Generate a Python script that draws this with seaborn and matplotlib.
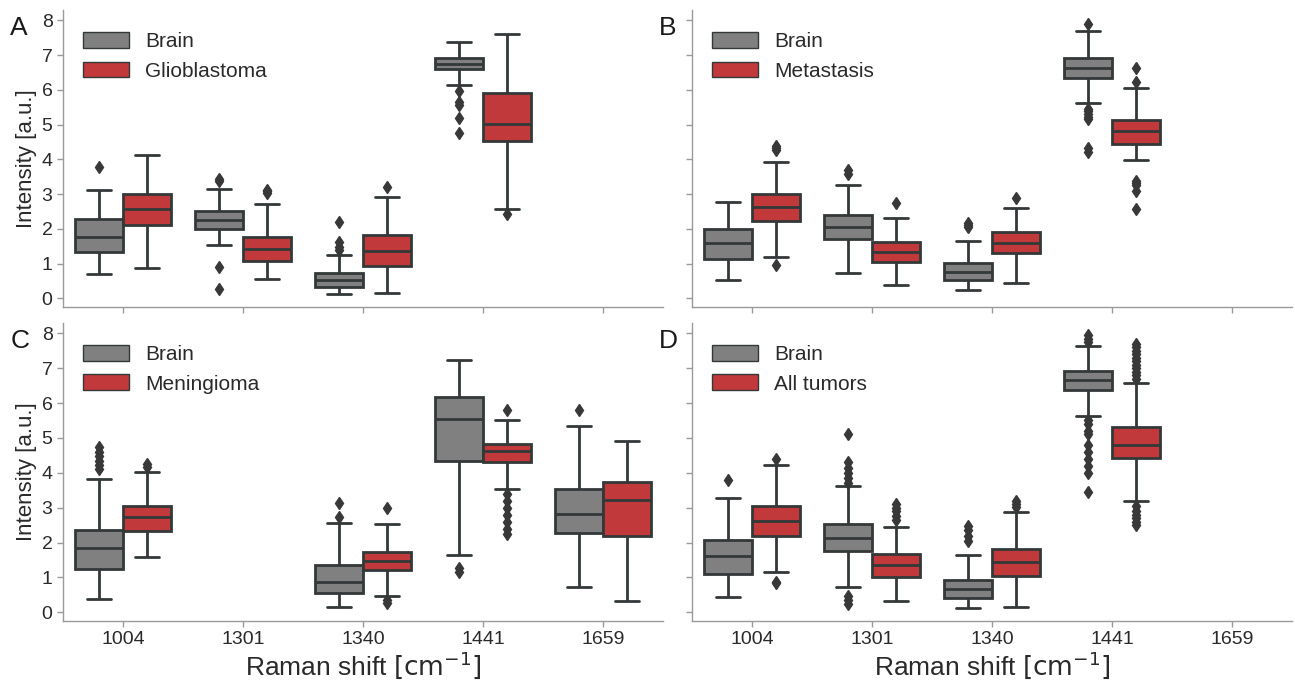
import numpy as np
import pandas as pd
import matplotlib.pyplot as plt
import seaborn as sns

shifts = ['1004', '1301', '1340', '1441', '1659']
tumor_names = ['Glioblastoma', 'Metastasis', 'Meningioma', 'All tumors']
panel_letters = ['A', 'B', 'C', 'D']

# box stats per Raman shift: (low whisker, q1, median, q3, high whisker), None = not measured
brain_A = [(0.70, 1.34, 1.77, 2.29, 3.11), (1.53, 2.00, 2.25, 2.52, 3.15),
           (0.12, 0.33, 0.54, 0.74, 1.25), (6.15, 6.59, 6.74, 6.93, 7.39), None]
brain_A_out = [[3.79], [3.38, 3.43, 0.90, 0.28], [1.40, 1.47, 1.63, 2.19],
               [5.97, 5.64, 5.58, 5.20, 4.75], []]
tumor_A = [(0.87, 2.10, 2.58, 3.01, 4.13), (0.56, 1.08, 1.43, 1.78, 2.73),
           (0.14, 0.92, 1.37, 1.82, 2.92), (2.58, 4.53, 5.02, 5.91, 7.60), None]
tumor_A_out = [[], [3.03, 3.08, 3.13], [3.20], [2.42], []]

brain_B = [(0.53, 1.12, 1.58, 2.00, 2.76), (0.74, 1.71, 2.04, 2.41, 3.25),
           (0.23, 0.53, 0.77, 1.02, 1.66), (5.61, 6.35, 6.62, 6.93, 7.70), None]
brain_B_out = [[], [3.58, 3.70], [2.05, 2.12, 2.17],
               [7.90, 5.45, 5.38, 5.30, 5.22, 5.15, 4.32, 4.22], []]
tumor_B = [(1.18, 2.24, 2.63, 3.00, 3.92), (0.38, 1.04, 1.34, 1.61, 2.31),
           (0.43, 1.30, 1.59, 1.92, 2.59), (3.99, 4.44, 4.82, 5.13, 6.06), None]
tumor_B_out = [[4.27, 4.33, 4.38, 0.97], [2.74], [2.89],
               [6.64, 6.23, 3.38, 3.32, 3.25, 3.08, 2.58], []]

brain_C = [(0.38, 1.23, 1.83, 2.36, 3.83), None, (0.14, 0.55, 0.87, 1.37, 2.57),
           (1.63, 4.33, 5.54, 6.17, 7.25), (0.73, 2.26, 2.83, 3.55, 5.34)]
brain_C_out = [[4.11, 4.22, 4.35, 4.48, 4.60, 4.73], [], [2.72, 3.13], [1.27, 1.15], [5.81]]
tumor_C = [(1.59, 2.34, 2.73, 3.05, 4.03), None, (0.46, 1.20, 1.47, 1.74, 2.53),
           (3.55, 4.30, 4.63, 4.83, 5.51), (0.32, 2.19, 3.23, 3.75, 4.91)]
tumor_C_out = [[4.18, 4.25], [], [2.98, 0.35, 0.28],
               [5.79, 3.39, 3.20, 3.00, 2.80, 2.60, 2.40, 2.24], []]

brain_D = [(0.43, 1.11, 1.61, 2.07, 3.27), (0.73, 1.76, 2.14, 2.53, 3.61),
           (0.11, 0.41, 0.67, 0.94, 1.63), (5.63, 6.37, 6.65, 6.91, 7.64), None]
brain_D_out = [[3.79], [3.72, 3.85, 4.00, 4.15, 4.30, 5.12, 0.46, 0.35, 0.25],
               [2.05, 2.20, 2.35, 2.47],
               [7.75, 7.85, 7.95, 5.52, 5.40, 5.20, 5.10, 4.80, 4.60, 4.40, 4.20, 4.00, 3.44], []]
tumor_D = [(1.16, 2.19, 2.62, 3.05, 4.23), (0.32, 1.02, 1.35, 1.66, 2.44),
           (0.14, 1.03, 1.45, 1.81, 2.88), (3.20, 4.42, 4.80, 5.31, 6.58), None]
tumor_D_out = [[4.40, 0.88, 0.84], [2.65, 2.75, 2.90, 3.00, 3.10], [3.02, 3.10, 3.18],
               [6.70, 6.80, 6.90, 7.00, 7.10, 7.20, 7.30, 7.40, 7.50, 7.60, 7.70,
                3.05, 2.90, 2.80, 2.70, 2.60, 2.50], []]

panels = [
    (brain_A, brain_A_out, tumor_A, tumor_A_out),
    (brain_B, brain_B_out, tumor_B, tumor_B_out),
    (brain_C, brain_C_out, tumor_C, tumor_C_out),
    (brain_D, brain_D_out, tumor_D, tumor_D_out),
]


def samples(stats, extra):
    # turn the read-off box stats into values that give back the same box
    lo, q1, med, q3, hi = stats
    return [lo, hi] + [q1] * 100 + [med] * 100 + [q3] * 100 + list(extra)


def panel_frame(brain, brain_out, tumor, tumor_out, tumor_name):
    rows = []
    for i, shift in enumerate(shifts):
        for tissue, st, out in [('Brain', brain[i], brain_out[i]), (tumor_name, tumor[i], tumor_out[i])]:
            if st is None:
                continue
            for v in samples(st, out):
                rows.append({'shift': shift, 'tissue': tissue, 'intensity': v})
    return pd.DataFrame(rows)


sns.set_style('ticks')
plt.rcParams['font.family'] = ['Liberation Sans', 'DejaVu Sans']
plt.rcParams['mathtext.fontset'] = 'dejavusans'

fig = plt.figure(figsize=(12.95, 6.87), dpi=100)
positions = [
    [0.0486, 0.5531, 0.4633, 0.4323],
    [0.5344, 0.5531, 0.4633, 0.4323],
    [0.0486, 0.0961, 0.4633, 0.4338],
    [0.5344, 0.0961, 0.4633, 0.4338],
]
letter_pos = [(0.008, 0.977), (0.509, 0.977), (0.008, 0.521), (0.509, 0.521)]

gray = '#808080'
red = '#c1393b'
line_col = '#333838'

for k in range(4):
    ax = fig.add_axes(positions[k])
    brain, brain_out, tumor, tumor_out = panels[k]
    df = panel_frame(brain, brain_out, tumor, tumor_out, tumor_names[k])
    sns.boxplot(data=df, x='shift', y='intensity', hue='tissue', order=shifts,
                hue_order=['Brain', tumor_names[k]], palette=[gray, red],
                width=0.8, linewidth=2.0, linecolor=line_col, saturation=1,
                flierprops=dict(marker='d', markerfacecolor='#383838',
                                markeredgecolor='#383838', markersize=6),
                ax=ax)
    ax.set_xlim(-0.5, 4.5)
    ax.set_ylim(-0.25, 8.3)
    ax.set_yticks(range(0, 9))
    sns.despine(ax=ax)
    for s in ['left', 'bottom']:
        ax.spines[s].set_color('#9a9a9a')
        ax.spines[s].set_linewidth(1.0)
    ax.tick_params(colors='#9a9a9a', labelcolor='#2a2a2a', labelsize=14, length=4, width=1)

    if k % 2 == 0:
        ax.set_ylabel('Intensity [a.u.]', fontsize=16, color='#2a2a2a', labelpad=3)
    else:
        ax.set_ylabel('')
        ax.tick_params(axis='y', labelleft=False)
    if k >= 2:
        ax.set_xlabel(r'Raman shift $\left[\mathsf{cm}^{-1}\right]$', fontsize=19,
                      color='#2a2a2a', labelpad=1)
    else:
        ax.set_xlabel('')
        ax.tick_params(axis='x', labelbottom=False)

    sns.move_legend(ax, 'upper left', bbox_to_anchor=(-0.007, 1.007), title=None,
                    frameon=False, fontsize=15, handlelength=2.2, handleheight=0.8,
                    handletextpad=0.8, labelspacing=0.5, borderaxespad=0.75)
    leg = ax.get_legend()
    for t in leg.get_texts():
        t.set_color('#2a2a2a')
    for h in leg.legend_handles:
        h.set_linewidth(1.0)

    fig.text(letter_pos[k][0], letter_pos[k][1], panel_letters[k], fontsize=19,
             color='#1a1a1a', va='top', ha='left')

fig.savefig('out.png', dpi=100)
